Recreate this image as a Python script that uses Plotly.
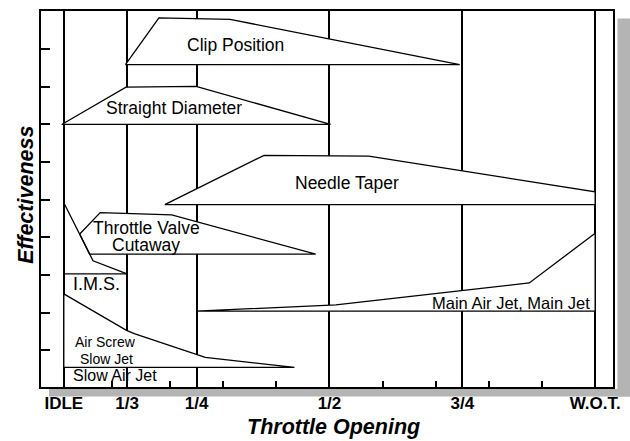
import plotly.graph_objects as go

# ---- data ----
x_tick_vals = [0.0, 0.119, 0.25, 0.5, 0.75, 1.0]
x_tick_text = ["IDLE", "1/3", "1/4", "1/2", "3/4", "W.O.T."]
x_minor_vals = [0.09, 0.2, 0.3, 0.4, 0.6, 0.7, 0.8, 0.9]
y_tick_vals = [1, 2, 3, 4, 5, 6, 7, 8, 9]

clip_x = [0.116, 0.179, 0.313, 0.745]
clip_y = [8.59, 9.83, 9.79, 8.59]

straight_x = [-0.004, 0.117, 0.249, 0.502]
straight_y = [7.00, 7.99, 8.01, 7.00]

needle_x = [0.190, 0.377, 0.574, 1.0, 1.0]
needle_y = [4.87, 6.18, 6.16, 5.21, 4.87]

throttle_x = [0.030, 0.0685, 0.203, 0.474, 0.0485]
throttle_y = [4.09, 4.66, 4.60, 3.555, 3.555]

mainjet_x = [0.249, 0.297, 0.512, 0.876, 1.0, 1.0]
mainjet_y = [2.04, 2.07, 2.21, 2.79, 4.11, 2.04]

airscrew_x = [0.0, 0.118, 0.1325, 0.2476, 0.2662, 0.434, 0.0]
airscrew_y = [2.50, 1.53, 1.445, 0.898, 0.811, 0.545, 0.545]

ims_curve_x = [0.0, 0.055, 0.119]
ims_curve_y = [4.92, 3.38, 3.03]
ims_base_x = [0.0, 0.119]
ims_base_y = [3.03, 3.03]

label_text = ["Clip Position", "Straight Diameter", "Needle Taper", "Throttle Valve",
              "Cutaway", "I.M.S.", "Main Air Jet, Main Jet", "Air Screw", "Slow Jet",
              "Slow Air Jet"]
label_x = [0.3231, 0.2075, 0.533, 0.1558, 0.1552, 0.0606, 0.9938, 0.0793, 0.0802, 0.0964]
label_y = [9.097, 7.432, 5.450, 4.248, 3.799, 2.774, 2.259, 1.215, 0.774, 0.322]
label_size = [17.5, 17.5, 17.5, 17.5, 17.5, 18, 16.5, 14, 14, 16]
label_anchor = ["center"] * 6 + ["right"] + ["center"] * 3

FONT = "Liberation Sans, Arial, Helvetica, sans-serif"

fig = go.Figure()

polygons = [(clip_x, clip_y), (straight_x, straight_y), (needle_x, needle_y),
            (throttle_x, throttle_y), (mainjet_x, mainjet_y), (airscrew_x, airscrew_y)]
for xs, ys in polygons:
    fig.add_trace(go.Scatter(
        x=xs + [xs[0]], y=ys + [ys[0]], mode="lines", fill="toself",
        fillcolor="white", line=dict(color="black", width=1.3),
        hoverinfo="skip", showlegend=False))

for xs, ys in [(ims_curve_x, ims_curve_y), (ims_base_x, ims_base_y)]:
    fig.add_trace(go.Scatter(
        x=xs, y=ys, mode="lines", line=dict(color="black", width=1.3),
        hoverinfo="skip", showlegend=False))

annotations = []
for t, x, y, s, a in zip(label_text, label_x, label_y, label_size, label_anchor):
    annotations.append(dict(text=t, x=x, y=y, xref="x", yref="y", showarrow=False,
                            xanchor=a, yanchor="middle",
                            font=dict(family=FONT, size=s, color="black")))

annotations.append(dict(text="Throttle Opening", x=0.512, y=-0.107, xref="paper",
                        yref="paper", showarrow=False, xanchor="center", yanchor="middle",
                        font=dict(family=FONT, size=21.5, color="black",
                                  weight="bold", style="italic")))
annotations.append(dict(text="Effectiveness", x=-0.0265, y=0.5106, xref="paper",
                        yref="paper", showarrow=False, xanchor="center", yanchor="middle",
                        textangle=-90,
                        font=dict(family=FONT, size=21.5, color="black",
                                  weight="bold", style="italic")))

shapes = [
    dict(type="rect", xref="paper", yref="paper", x0=1.0078, x1=1.04, y0=-0.0251,
         y1=0.9802, fillcolor="#b4b4b4", line=dict(width=0), layer="below"),
    dict(type="rect", xref="paper", yref="paper", x0=0.0139, x1=1.04, y0=-0.0251,
         y1=-0.0053, fillcolor="#b4b4b4", line=dict(width=0), layer="below"),
]

fig.update_layout(
    width=630, height=441,
    margin=dict(l=41, r=12, t=9, b=54),
    paper_bgcolor="white", plot_bgcolor="white",
    showlegend=False, hovermode=False,
    annotations=annotations, shapes=shapes,
    xaxis=dict(range=[-0.04291, 1.03358], tickmode="array", tickvals=x_tick_vals,
               ticktext=x_tick_text, ticks="", showgrid=True, gridcolor="black",
               gridwidth=2, zeroline=False, showline=True, mirror=True,
               linecolor="black", linewidth=2,
               tickfont=dict(family=FONT, size=17, color="black", weight="bold"),
               minor=dict(tickmode="array", tickvals=x_minor_vals, ticks="inside",
                          ticklen=6, tickwidth=1.5, tickcolor="black", showgrid=False),
               fixedrange=True),
    yaxis=dict(range=[0.0264, 10.013], tickmode="array", tickvals=y_tick_vals,
               ticks="inside", ticklen=9, tickwidth=2, tickcolor="black",
               showticklabels=False, showgrid=False, zeroline=False, showline=True,
               mirror=True, linecolor="black", linewidth=2, fixedrange=True),
)

fig.write_html("out.html", config={"displayModeBar": False},
               post_script="document.body.style.margin='0';document.body.style.padding='0';")
